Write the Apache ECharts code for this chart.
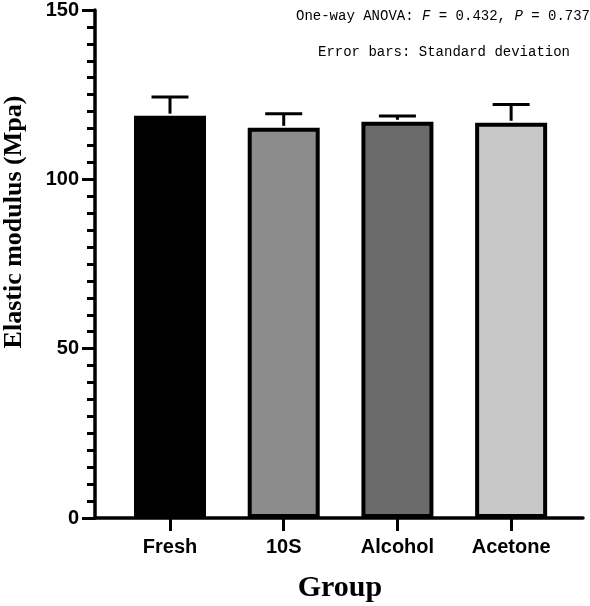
<!DOCTYPE html>
<html>
<head>
<meta charset="utf-8">
<script src="https://cdn.jsdelivr.net/npm/echarts@6/dist/echarts.min.js"></script>
<style>html,body{margin:0;padding:0;background:#fff}#c{width:590px;height:606px}</style>
</head>
<body>
<div id="c"></div>
<script>
const categories = ['Fresh', '10S', 'Alcohol', 'Acetone'];
const means = [118.8, 115.2, 117.0, 116.7];
const sds = [5.5, 4.2, 1.7, 5.4];
const barColors = ['#000000', '#8c8c8c', '#6b6b6b', '#c8c8c8'];
const yTicks = [0, 50, 100, 150];

const chart = echarts.init(document.getElementById('c'));
const positions = categories.map((_, i) => i);

const option = {
  animation: false,
  grid: { left: 95, right: 7, top: 6, bottom: 88 },
  xAxis: {
    type: 'value',
    min: -0.6596,
    max: 3.632,
    splitLine: { show: false },
    axisLine: { show: true, onZero: false, lineStyle: { color: '#000', width: 3.5 } },
    axisTick: { show: true, customValues: positions, length: 13, lineStyle: { color: '#000', width: 3 } },
    axisLabel: {
      customValues: positions,
      formatter: v => categories[Math.round(v)] || '',
      margin: 19,
      color: '#000',
      fontFamily: 'Liberation Sans',
      fontWeight: 'bold',
      fontSize: 20
    }
  },
  yAxis: {
    type: 'value',
    min: 0,
    max: 150,
    interval: 50,
    splitLine: { show: false },
    axisLine: { show: true, onZero: false, lineStyle: { color: '#000', width: 3.5 } },
    axisTick: { show: true, length: 13, lineStyle: { color: '#000', width: 3 } },
    minorTick: { show: true, splitNumber: 10, length: 8, lineStyle: { color: '#000', width: 3 } },
    axisLabel: {
      formatter: v => (yTicks.indexOf(v) >= 0 ? String(v) : ''),
      margin: 16,
      color: '#000',
      fontFamily: 'Liberation Sans',
      fontWeight: 'bold',
      fontSize: 20
    }
  },
  series: [
    {
      type: 'bar',
      barWidth: 72,
      data: means.map((m, i) => ({
        value: [positions[i], m],
        itemStyle: { color: barColors[i], borderColor: '#000', borderWidth: 4 }
      })),
      z: 2
    },
    {
      type: 'custom',
      z: 3,
      data: means.map((m, i) => [positions[i], m, m + sds[i]]),
      renderItem: function (params, api) {
        const x = api.value(0);
        const base = api.coord([x, api.value(1)]);
        const top = api.coord([x, api.value(2)]);
        const half = 18.5;
        const style = { stroke: '#000', lineWidth: 3 };
        return {
          type: 'group',
          children: [
            { type: 'line', shape: { x1: base[0], y1: base[1] - 2, x2: top[0], y2: top[1] }, style: style },
            { type: 'line', shape: { x1: top[0] - half, y1: top[1], x2: top[0] + half, y2: top[1] }, style: style }
          ]
        };
      }
    }
  ],
  graphic: [
    {
      type: 'text',
      x: 14,
      y: 222,
      rotation: Math.PI / 2,
      style: {
        text: 'Elastic modulus (Mpa)',
        fontFamily: 'Liberation Serif',
        fontWeight: 'bold',
        fontSize: 26,
        fill: '#000',
        align: 'center',
        verticalAlign: 'middle'
      }
    },
    {
      type: 'text',
      x: 340,
      y: 588,
      style: {
        text: 'Group',
        fontFamily: 'Liberation Serif',
        fontWeight: 'bold',
        fontSize: 30,
        fill: '#000',
        align: 'center',
        verticalAlign: 'middle'
      }
    },
    {
      type: 'text',
      x: 443,
      y: 16,
      style: {
        text: '{a|One-way ANOVA: }{i|F}{a| = 0.432, }{i|P}{a| = 0.737}',
        align: 'center',
        verticalAlign: 'middle',
        rich: {
          a: { fontFamily: 'Liberation Mono', fontSize: 14, fill: '#000', color: '#000' },
          i: { fontFamily: 'Liberation Mono', fontStyle: 'italic', fontSize: 14, fill: '#000', color: '#000' }
        }
      }
    },
    {
      type: 'text',
      x: 444,
      y: 52,
      style: {
        text: 'Error bars: Standard deviation',
        fontFamily: 'Liberation Mono',
        fontSize: 14,
        fill: '#000',
        align: 'center',
        verticalAlign: 'middle'
      }
    }
  ]
};
chart.setOption(option);
</script>
</body>
</html>
